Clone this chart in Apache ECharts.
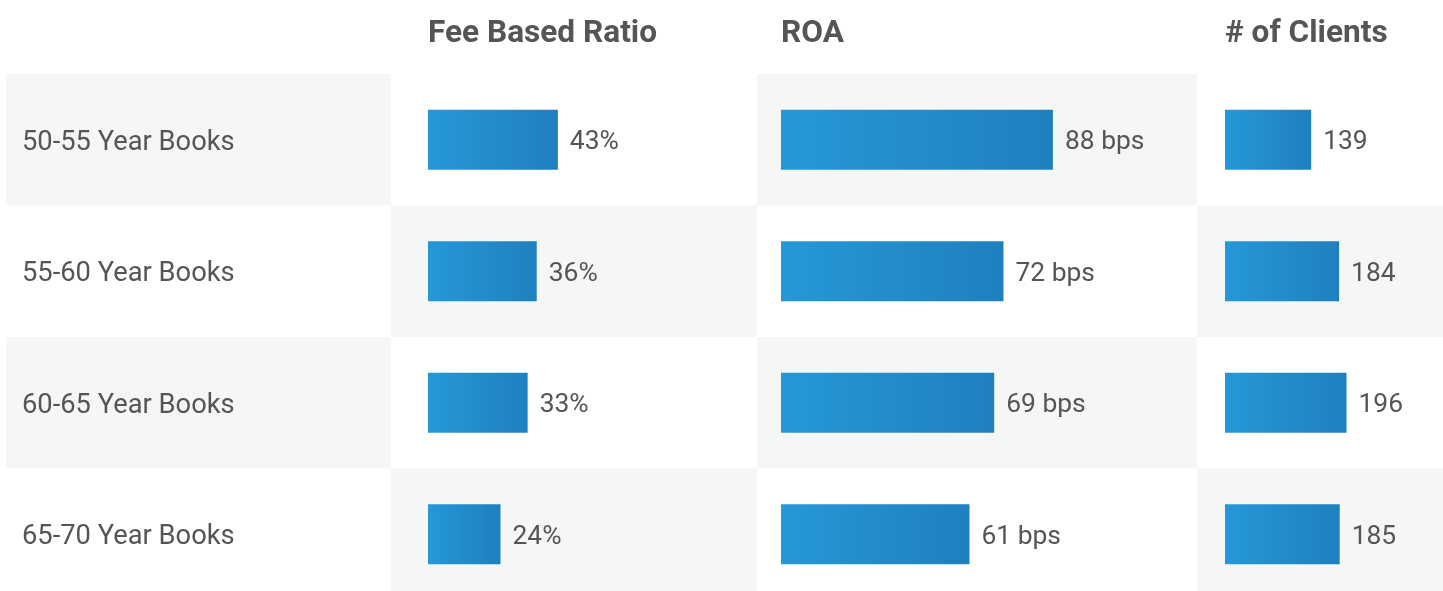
<!DOCTYPE html>
<html>
<head>
<meta charset="utf-8">
<script src="https://cdn.jsdelivr.net/npm/echarts@6/dist/echarts.min.js"></script>
<style>
  html, body { margin: 0; padding: 0; background: #fff; overflow: hidden; }
  #chart { width: 1443px; height: 600px; }
</style>
</head>
<body>
<div id="chart"></div>
<script>
// data
const categories = ['50-55 Year Books', '55-60 Year Books', '60-65 Year Books', '65-70 Year Books'];
const metrics = ['Fee Based Ratio', 'ROA', '# of Clients'];
const feeRatio = [43, 36, 33, 24];
const roa = [88, 72, 69, 61];
const clients = [139, 184, 196, 185];

const textColor = '#555555';
const grayBand = '#f5f7f7';
const font = 'Roboto, "Noto Sans", sans-serif';

// table cell layout (last row runs past the bottom edge)
const colEdges = [6, 391, 757, 1197, 1443];
const rowTop = 74;
const rowH = 131.5;

const bandRects = [];
for (let r = 0; r < categories.length; r++) {
  for (let c = 0; c < colEdges.length - 1; c++) {
    if ((r + c) % 2 === 0) {
      bandRects.push({
        type: 'rect',
        z: -10,
        shape: { x: colEdges[c], y: rowTop + r * rowH, width: colEdges[c + 1] - colEdges[c], height: rowH },
        style: { fill: grayBand },
        silent: true,
      });
    }
  }
}

const barColor = new echarts.graphic.LinearGradient(0, 0, 1, 0, [
  { offset: 0, color: '#2698d7' },
  { offset: 1, color: '#1f80be' },
]);

const grids = [
  { left: 428, top: rowTop, width: 302, height: rowH * 4 },
  { left: 781, top: rowTop, width: 309, height: rowH * 4 },
  { left: 1225, top: rowTop, width: 124, height: rowH * 4 },
];

const xMax = [100, 100, 200];
const formats = [v => v + '%', v => v + ' bps', v => String(v)];
const seriesData = [feeRatio, roa, clients];

const option = {
  animation: false,
  textStyle: { fontFamily: font },
  graphic: bandRects,
  title: metrics.map((m, i) => ({
    text: m,
    left: grids[i].left,
    top: 18,
    padding: 0,
    textStyle: { fontFamily: font, fontSize: 31.6, fontWeight: 'bold', color: textColor },
  })),
  grid: grids,
  xAxis: grids.map((g, i) => ({
    type: 'value',
    gridIndex: i,
    min: 0,
    max: xMax[i],
    show: false,
  })),
  yAxis: grids.map((g, i) => ({
    type: 'category',
    gridIndex: i,
    inverse: true,
    data: categories,
    axisLine: { show: false },
    axisTick: { show: false },
    splitLine: { show: false },
    axisLabel: i === 0 ? {
      show: true,
      align: 'left',
      margin: g.left - 22,
      formatter: v => '{name|' + v + '}',
      rich: {
        name: {
          padding: [6, 0, 0, 0],
          color: textColor,
          fontSize: 27.3,
          fontFamily: font,
        },
      },
    } : { show: false },
  })),
  series: seriesData.map((d, i) => ({
    type: 'bar',
    xAxisIndex: i,
    yAxisIndex: i,
    barWidth: 60,
    data: d,
    itemStyle: { color: barColor },
    label: {
      show: true,
      position: 'right',
      distance: 12,
      offset: [0, 3],
      color: textColor,
      fontSize: 26.4,
      fontFamily: font,
      formatter: p => formats[i](p.value),
    },
  })),
};

const chart = echarts.init(document.getElementById('chart'));
chart.setOption(option);
</script>
</body>
</html>
